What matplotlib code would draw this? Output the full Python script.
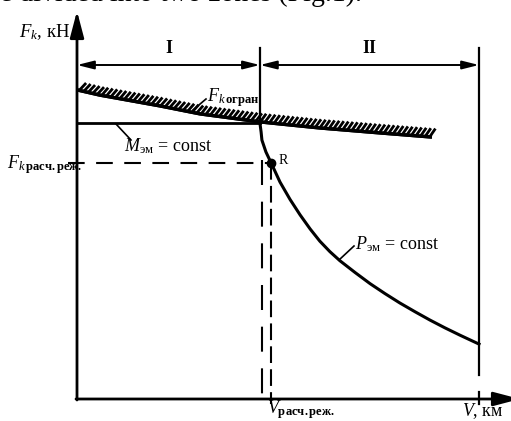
import matplotlib
matplotlib.use("Agg")
import matplotlib.pyplot as plt
import matplotlib.patheffects as pe

plt.rcParams['font.family'] = ['Liberation Serif', 'DejaVu Serif']
plt.rcParams['mathtext.fontset'] = 'custom'
plt.rcParams['mathtext.rm'] = 'Liberation Serif'
plt.rcParams['mathtext.it'] = 'Liberation Serif:italic'
plt.rcParams['mathtext.bf'] = 'Liberation Serif:bold'

# ---- data (arbitrary units: speed V 0..100, force F with M=const at 100) ----
v_limit = [0, 5.7, 20.6, 30.6, 45.5, 60.4, 75.4, 88.3]
f_limit = [112.0, 110.1, 106.2, 103.3, 100.4, 98.2, 96.4, 94.9]

v_torque = [0, 45.5]
f_torque = [100, 100]

v_power = [45.5, 45.8, 46.0, 47.0, 48.3, 50.5, 53.0, 55.5, 58.0, 60.4, 62.9, 65.4,
           69.2, 72.9, 76.6, 80.3, 84.1, 87.8, 91.5, 95.3, 100]
f_power = [100.0, 96.7, 93.8, 89.5, 85.5, 78.6, 72.3, 66.7, 61.6, 57.2, 53.4, 50.1,
           45.8, 41.8, 38.2, 34.8, 31.6, 28.6, 25.8, 23.1, 19.9]

v_rated = 48.3
f_rated = 85.5
v_rated_aux = 46.0
v_zone_bounds = [0, 45.5, 100]
zone_labels = ["I", "II"]

# ---- pixel helpers for layout ----
X0, XS = 77, 4.02
Y0, YS = 399, 2.76
def px(x):
    return (x - X0) / XS
def py(y):
    return (Y0 - y) / YS

fig = plt.figure(figsize=(5.11, 4.21), dpi=100)
ax = fig.add_axes([0, 0, 1, 1])
ax.set_xlim(px(0), px(511))
ax.set_ylim(py(421), py(0))
ax.axis('off')

K = 'black'

# top clipped text line
ax.text(px(362), py(1), "be divided into two zones (Fig.1).", fontsize=20,
        ha='right', va='baseline', color=K)

# axes arrows
ax.annotate('', xy=(0, py(11)), xytext=(0, py(400)), annotation_clip=False,
            arrowprops=dict(arrowstyle='-|>,head_length=1.6,head_width=0.42',
                            lw=2.0, color=K, mutation_scale=10, shrinkA=0, shrinkB=0))
ax.annotate('', xy=(px(520), 0), xytext=(px(76), 0), annotation_clip=False,
            arrowprops=dict(arrowstyle='-|>,head_length=1.6,head_width=0.42',
                            lw=2.0, color=K, mutation_scale=10, shrinkA=0, shrinkB=0))

# zone boundary lines
ax.plot([v_zone_bounds[1]] * 2, [f_torque[1], py(48)], color=K, lw=1.6)
ax.plot([v_zone_bounds[2]] * 2, [py(375), py(48)], color=K, lw=1.6)
ax.plot([v_zone_bounds[2]] * 2, [py(404), py(392)], color=K, lw=1.6)

# zone arrows
yz = py(65)
for i in range(2):
    ax.annotate('', xy=(v_zone_bounds[i], yz), xytext=(v_zone_bounds[i + 1], yz),
                arrowprops=dict(arrowstyle='<|-|>,head_length=1.0,head_width=0.25',
                                lw=1.4, color=K, mutation_scale=10, shrinkA=0, shrinkB=0))
    ax.text((v_zone_bounds[i] + v_zone_bounds[i + 1]) / 2, py(48), zone_labels[i],
            fontsize=13, ha='center', va='center', color=K, fontweight='bold')

# limiting force (hatched)
ax.plot(v_limit, f_limit, color=K, lw=2.4, solid_capstyle='butt',
        path_effects=[pe.withTickedStroke(angle=60, spacing=3.3, length=2.2, linewidth=2.0),
                      pe.Normal()])

# torque const
ax.plot(v_torque, f_torque, color=K, lw=2.0)
# power const
ax.plot(v_power, f_power, color=K, lw=2.2, solid_joinstyle='round')

# dashed construction lines
ax.plot([px(68), v_rated], [f_rated, f_rated], color=K, lw=1.5, dashes=(8, 5.5))
ax.plot([v_rated, v_rated], [f_rated, py(404)], color=K, lw=1.5, dashes=(8, 3))
ax.plot([v_rated_aux, v_rated_aux], [py(160), 0], color=K, lw=1.5, dashes=(12, 8))
ax.plot([v_rated], [f_rated], 'o', color=K, ms=6)

# labels
ax.text(px(19), py(37), r"$F_{k}$, кН", fontsize=13.5, ha='left', va='baseline', color=K)
ax.text(px(207), py(101), r"$F_{k\,\mathbf{огран}}$", fontsize=13, ha='left', va='baseline', color=K)
ax.plot([px(193), px(206)], [py(110), py(99)], color=K, lw=1.2)
ax.text(px(124), py(151), r"$M_{\mathrm{эм}}$ = const", fontsize=13, ha='left', va='baseline', color=K)
ax.plot([px(116), px(131)], [py(124), py(140)], color=K, lw=1.2)
ax.text(px(7), py(168), r"$F_{k\,\mathbf{расч.реж.}}$", fontsize=13, ha='left', va='baseline', color=K)
ax.text(px(279), py(160), "R", fontsize=10, ha='left', va='center', color=K)
ax.text(px(355), py(249), r"$P_{\mathrm{эм}}$ = const", fontsize=13, ha='left', va='baseline', color=K)
ax.plot([px(339), px(354)], [py(260), py(246)], color=K, lw=1.2)
ax.text(px(267), py(413), r"$V_{\mathbf{расч.реж.}}$", fontsize=13, ha='left', va='baseline', color=K)
ax.text(px(462), py(416), r"$V$, км", fontsize=13, ha='left', va='baseline', color=K)

fig.savefig("out.png", dpi=100)
